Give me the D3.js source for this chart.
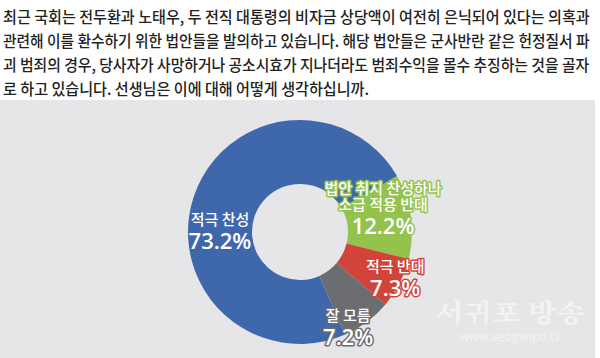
<!DOCTYPE html>
<html><head><meta charset="utf-8">
<script src="https://cdn.jsdelivr.net/npm/d3@7"></script>
<style>
html,body{margin:0;padding:0;background:#fff;}
svg{display:block;}
</style></head>
<body>
<svg id="c" width="600" height="358"></svg>
<script>
const questionLines = [
  "최근 국회는 전두환과 노태우, 두 전직 대통령의 비자금 상당액이 여전히 은닉되어 있다는 의혹과",
  "관련해 이를 환수하기 위한 법안들을 발의하고 있습니다. 해당 법안들은 군사반란 같은 헌정질서 파",
  "괴 범죄의 경우, 당사자가 사망하거나 공소시효가 지나더라도 범죄수익을 몰수 추징하는 것을 골자",
  "로 하고 있습니다. 선생님은 이에 대해 어떻게 생각하십니까."
];
const categories = ["법안 취지 찬성하나\n소급 적용 반대", "적극 반대", "잘 모름", "적극 찬성"];
const values = [12.2, 7.3, 7.2, 73.2];
const colors = ["#93c34d", "#d2433a", "#6c6d71", "#3f67ab"];
const outlined = [true, true, true, false];
const watermarkTitle = "서귀포 방송";
const watermarkUrl = "www.seogwipo.tv";

const svg = d3.select("#c");

// question text (each line horizontally scaled to fit like the condensed original)
const qg = svg.append("g");
const lineTexts = questionLines.map((t, i) => qg.append("text")
  .attr("x", 0).attr("y", 0)
  .attr("font-family", "'Noto Sans CJK KR'")
  .attr("font-size", 16).attr("font-weight", 500)
  .attr("fill", "#222").text(t));
const fullW = 587;
const ratio = fullW / lineTexts[0].node().getComputedTextLength();
lineTexts.forEach((t, i) => {
  const len = t.node().getComputedTextLength();
  const s = i < 3 ? fullW / len : ratio;
  t.attr("transform", `translate(3,${22.5 + i * 24}) scale(${s},1)`);
});

// panel
svg.append("rect").attr("x", 0).attr("y", 100).attr("width", 595).attr("height", 258).attr("fill", "#e6e6e8");

// watermark
svg.append("text").attr("x", 510).attr("y", 322).attr("text-anchor", "middle")
  .attr("font-family", "'Noto Serif CJK KR','Noto Sans CJK KR'").attr("font-weight", 700)
  .attr("font-size", 25).attr("fill", "#fff").attr("fill-opacity", 0.55)
  .attr("textLength", 150).attr("lengthAdjust", "spacingAndGlyphs").text(watermarkTitle);
svg.append("text").attr("x", 510).attr("y", 341).attr("text-anchor", "middle")
  .attr("font-family", "'Open Sans'").attr("font-size", 12.5)
  .attr("fill", "#fff").attr("fill-opacity", 0.55).text(watermarkUrl);

// donut
const cx = 300, cy = 232, rOut = 112, rIn = 48;
const g = svg.append("g").attr("transform", `translate(${cx},${cy})`);
const pie = d3.pie().sort(null).value(d => d)
  .startAngle(60 * Math.PI / 180).endAngle(420 * Math.PI / 180);
const arcs = pie(values);
const arc = d3.arc().innerRadius(rIn).outerRadius(rOut);
g.selectAll("path").data(arcs).join("path")
  .attr("d", arc).attr("fill", (d, i) => colors[i]);

// label placement: angle/radius shifts relative to slice mid-angle
const labelTweak = [
  {da: -7, r: 86, dy: -1},
  {da: -1, r: 106, dy: 0},
  {da: 10, r: 107, dy: 0},
  {da: -18, r: 80, dy: 0}
];
arcs.forEach((a, i) => {
  const t = labelTweak[i];
  const ang = (a.startAngle + a.endAngle) / 2 + t.da * Math.PI / 180;
  const x = Math.sin(ang) * t.r;
  const y = -Math.cos(ang) * t.r + t.dy;
  const lines = categories[i].split("\n");
  const catSize = 15, lineH = 16.5, pctGap = 24;
  const top = -((lines.length - 1) * lineH + catSize + pctGap) / 2;
  const txt = g.append("text").attr("transform", `translate(${x},${y})`)
    .attr("text-anchor", "middle").attr("fill", "#fff");
  if (outlined[i]) txt.attr("stroke", colors[i]).attr("stroke-width", 3)
    .attr("stroke-linejoin", "round").attr("paint-order", "stroke");
  lines.forEach((ln, k) => {
    txt.append("tspan").attr("x", 0).attr("y", top + 13 + k * lineH)
      .attr("font-family", "'Noto Sans CJK KR'").attr("font-weight", 500)
      .attr("font-size", catSize).text(ln);
  });
  txt.append("tspan").attr("x", 0).attr("y", top + 13 + (lines.length - 1) * lineH + pctGap)
    .attr("font-family", "'Open Sans'").attr("font-weight", 600)
    .attr("font-size", 22).text(values[i].toFixed(1) + "%");
});
</script>
</body></html>
